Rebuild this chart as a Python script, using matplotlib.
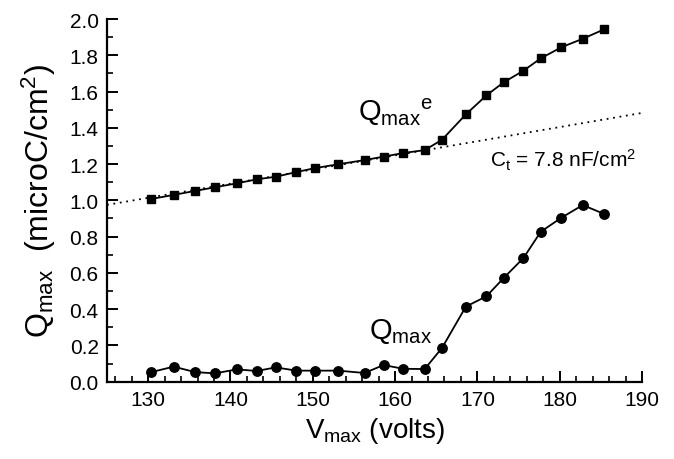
import matplotlib
matplotlib.use("Agg")
import matplotlib.pyplot as plt
from matplotlib.ticker import MultipleLocator, FormatStrFormatter

plt.rcParams['font.family'] = ['Liberation Sans', 'DejaVu Sans']
plt.rcParams['mathtext.fontset'] = 'custom'
plt.rcParams['mathtext.rm'] = 'Liberation Sans'
plt.rcParams['mathtext.it'] = 'Liberation Sans:italic'
plt.rcParams['mathtext.bf'] = 'Liberation Sans:bold'

# Data
v_max = [130.3, 133.1, 135.7, 138.1, 140.8, 143.2, 145.5, 148.0, 150.3, 153.1,
         156.3, 158.6, 161.0, 163.6, 165.7, 168.6, 171.1, 173.2, 175.6, 177.7,
         180.2, 182.8, 185.4]
q_max_e = [1.007, 1.030, 1.052, 1.072, 1.094, 1.116, 1.130, 1.156, 1.178, 1.199,
           1.222, 1.241, 1.261, 1.277, 1.334, 1.474, 1.579, 1.651, 1.715, 1.783,
           1.844, 1.891, 1.943]
q_max = [0.052, 0.083, 0.053, 0.046, 0.068, 0.059, 0.079, 0.061, 0.061, 0.061,
         0.048, 0.092, 0.071, 0.070, 0.186, 0.414, 0.471, 0.572, 0.682, 0.827,
         0.904, 0.974, 0.925]
ct_nf = 7.8  # nF/cm^2
fit_v = [125, 190]

fig = plt.figure(figsize=(6.74, 4.6), dpi=100)
ax = fig.add_axes([107/674, 1 - 382.7/460, (642-107)/674, (382.7-20)/460])

fit_q = [ct_nf * 1e-3 * v for v in fit_v]
ax.plot(fit_v, fit_q, color='black', lw=1.3, linestyle=(0, (1, 2.6)), zorder=2)
ax.plot(v_max, q_max_e, color='black', lw=1.3, marker='s', markersize=5.8, zorder=3)
ax.plot(v_max, q_max, color='black', lw=1.3, marker='o', markersize=6.8, zorder=3)

ax.set_xlim(125, 190)
ax.set_ylim(0, 2.0)
ax.xaxis.set_major_locator(MultipleLocator(10))
ax.xaxis.set_minor_locator(MultipleLocator(2))
ax.yaxis.set_major_locator(MultipleLocator(0.2))
ax.yaxis.set_minor_locator(MultipleLocator(0.1))
ax.yaxis.set_major_formatter(FormatStrFormatter('%.1f'))

for s in ['top', 'right']:
    ax.spines[s].set_visible(False)
for s in ['left', 'bottom']:
    ax.spines[s].set_linewidth(1.6)

ax.tick_params(which='major', direction='in', length=8, width=1.4, labelsize=15, pad=6)
ax.tick_params(which='minor', direction='in', length=4.5, width=1.2)

ax.set_xlabel(r'V$_{\mathregular{max}}$ (volts)', fontsize=20, labelpad=4)
ax.set_ylabel(r'Q$_{\mathregular{max}}$  (microC/cm$^{\mathregular{2}}$)', fontsize=23, labelpad=8)

ax.text(155.5, 1.49, r'Q$_{\mathregular{max}}$$^{\mathregular{e}}$', fontsize=21, va='center', ha='left')
ax.text(171.5, 1.225, r'C$_{\mathregular{t}}$ = 7.8 nF/cm$^{\mathregular{2}}$', fontsize=15, va='center', ha='left')
ax.text(156.8, 0.28, r'Q$_{\mathregular{max}}$', fontsize=21, va='center', ha='left')

fig.savefig('out.png', dpi=100)
